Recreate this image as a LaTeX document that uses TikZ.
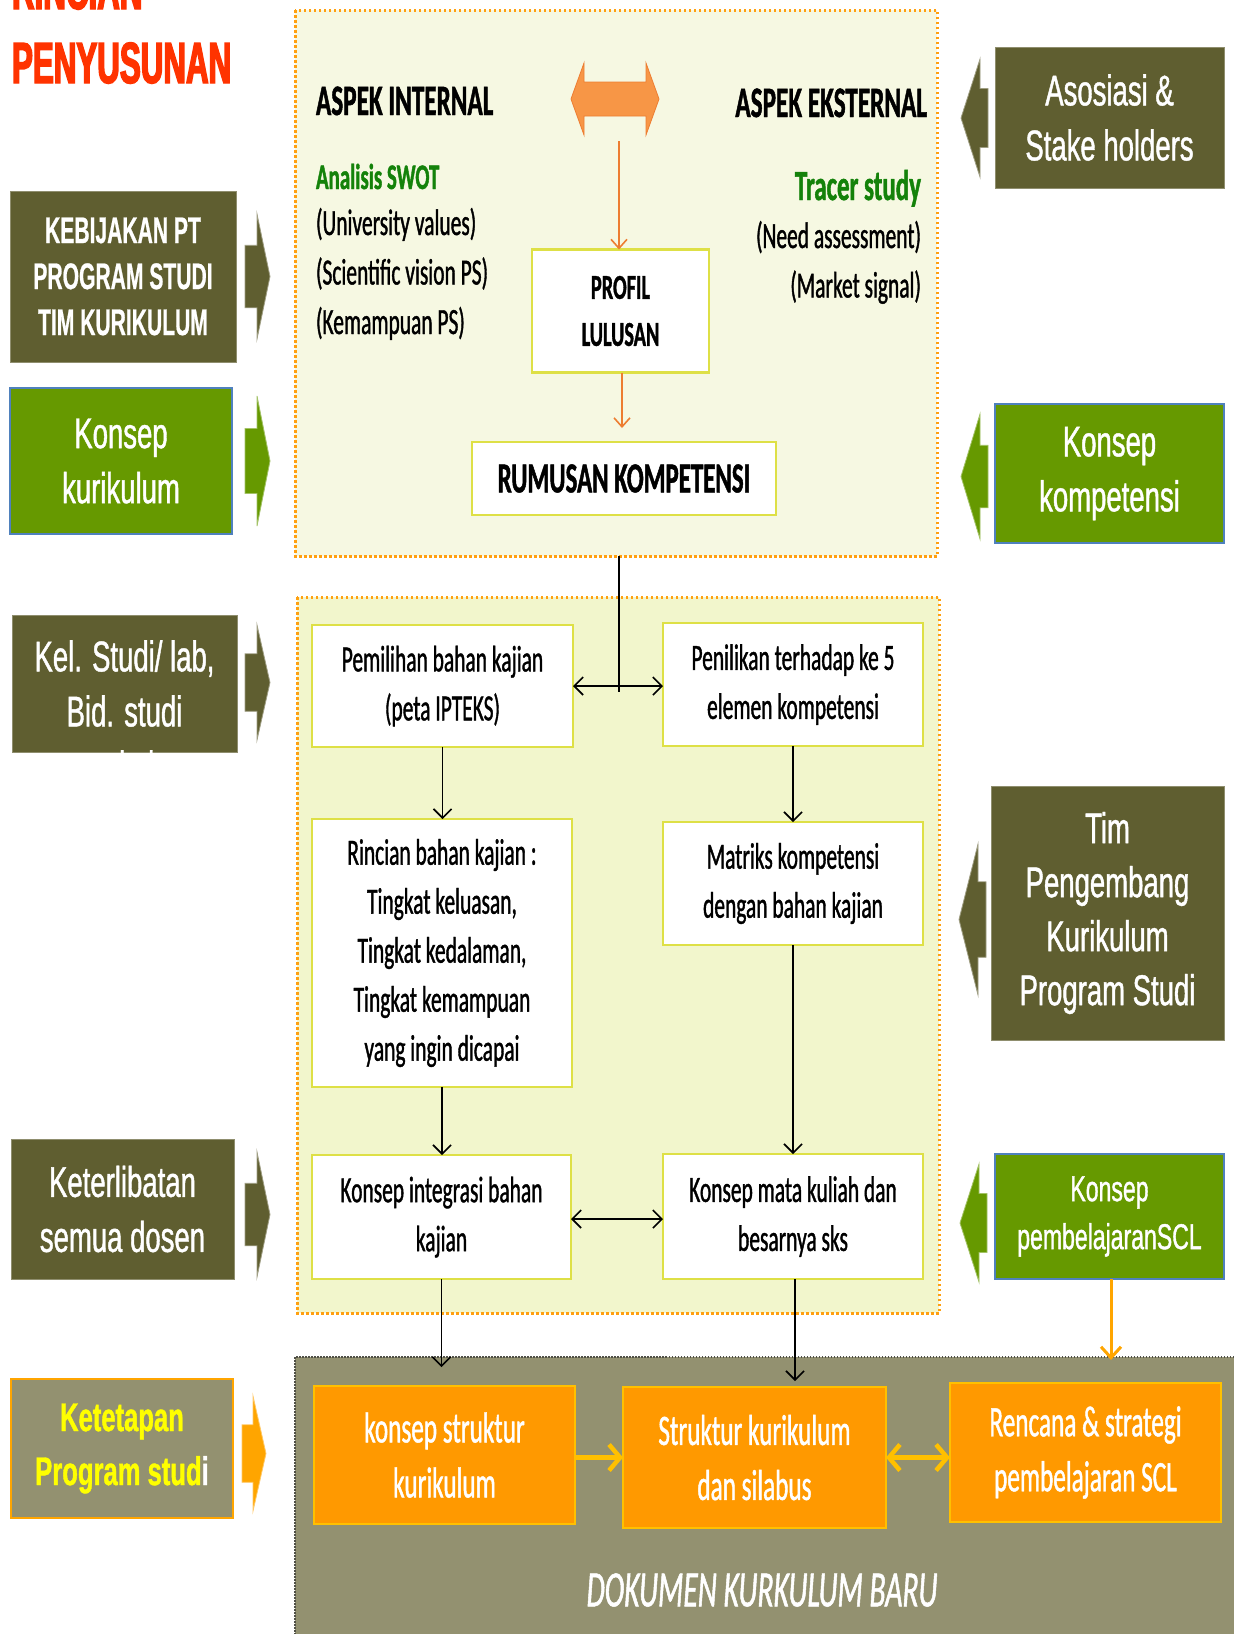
\documentclass[tikz,border=0pt]{standalone}
\usepackage{fontspec}
\setmainfont{Carlito}
\newfontfamily\cf[FakeStretch=0.58,FakeBold=1]{Carlito}
\newfontfamily\af[FakeStretch=0.64,FakeBold=1]{Liberation Sans}
\newfontfamily\afn[FakeStretch=0.57,FakeBold=0.6]{Liberation Sans}
\newfontfamily\tf[FakeStretch=0.54,FakeBold=2.5]{Liberation Sans}
\usetikzlibrary{arrows.meta}
\definecolor{darkol}{RGB}{95,94,48}
\definecolor{kgreen}{RGB}{102,153,0}
\definecolor{blueb}{RGB}{79,129,189}
\definecolor{grayol}{RGB}{147,145,112}
\definecolor{boxyel}{RGB}{222,224,70}
\definecolor{dotor}{RGB}{255,160,16}
\definecolor{lightA}{RGB}{246,248,226}
\definecolor{lightB}{RGB}{242,246,204}
\definecolor{boxor}{RGB}{255,153,0}
\definecolor{boxorb}{RGB}{255,192,0}
\definecolor{yarr}{RGB}{255,192,0}
\definecolor{bigor}{RGB}{247,150,70}
\definecolor{thinor}{RGB}{237,125,49}
\definecolor{arror}{RGB}{255,165,0}
\definecolor{ttlred}{RGB}{255,51,0}
\definecolor{txgreen}{RGB}{20,130,10}
\definecolor{bordk}{RGB}{80,80,70}
\definecolor{ketyel}{RGB}{255,255,0}
% block arrow: tail x, head-base x, tip x, top y, bottom y, colour
\newcommand\blockarr[6]{%
  \path[fill=#6,draw=#6!60!white,line width=0.8pt]
  (#1,{0.5*(#4+#5)-0.25*(#5-#4)}) -- (#2,{0.5*(#4+#5)-0.25*(#5-#4)}) -- (#2,#4)
  -- (#3,{0.5*(#4+#5)}) -- (#2,#5) -- (#2,{0.5*(#4+#5)+0.25*(#5-#4)})
  -- (#1,{0.5*(#4+#5)+0.25*(#5-#4)}) -- cycle;}
\begin{document}
\begin{tikzpicture}[x=1pt,y=-1pt,
  every node/.style={inner sep=0pt,outer sep=0pt},
  wbox/.style={draw=boxyel,line width=2.5pt,fill=white,align=center,text=black,
    font=\cf\fontsize{37}{49}\selectfont},
  sidebox/.style={align=center,text=white,font=\af\fontsize{43}{55}\selectfont},
  olbox/.style={sidebox,fill=darkol,draw=darkol!70!white,line width=1pt},
  grbox/.style={sidebox,fill=kgreen,draw=blueb,line width=1.5pt},
  obox/.style={fill=boxor,draw=boxorb,line width=2.5pt,text=white,align=center,
    font=\cf\fontsize{43.5}{55}\selectfont},
  lightbox/.style={draw=dotor,line width=3pt,dash pattern=on 2.5pt off 2.5pt},
  blk/.style={draw=black,line width=1.6pt},
  blkarr/.style={blk,-{Straight Barb[length=9pt,width=18pt]}},
  blkdbl/.style={blk,{Straight Barb[length=9pt,width=18pt]}-{Straight Barb[length=9pt,width=18pt]}},
  orarr/.style={draw=thinor,line width=1.6pt,-{Straight Barb[length=9pt,width=16pt]}},
  yarrow/.style={draw=yarr,line width=4.5pt,-{Straight Barb[length=11pt,width=26pt]}},
  ydbl/.style={draw=yarr,line width=4.5pt,{Straight Barb[length=11pt,width=26pt]}-{Straight Barb[length=11pt,width=26pt]}},
  hdr/.style={font=\cf\bfseries\fontsize{43.5}{43.5}\selectfont,text=black},
  sub/.style={font=\cf\fontsize{37}{37}\selectfont,text=black},
  gsub/.style={font=\cf\bfseries\fontsize{37}{37}\selectfont,text=txgreen}]
\useasboundingbox (0,0) rectangle (1234,1634);
\fill[white] (0,0) rectangle (1234,1634);

% title
\node[anchor=base west,text=ttlred,font=\tf\bfseries\fontsize{58}{58}\selectfont] (t1) at (12,9) {RINCIAN};
\node[anchor=base west,text=ttlred,font=\tf\bfseries\fontsize{58}{58}\selectfont] (t2) at (12,83) {PENYUSUNAN};

% light regions
\path[lightbox,fill=lightA] (295,10) rectangle (937,556);
\path[lightbox,fill=lightB] (297,597) rectangle (939,1313);
\path[fill=grayol,draw=bordk,line width=2.5pt,dash pattern=on 1.5pt off 1.5pt] (295,1357) rectangle (1250,1650);

% top region
\node[hdr,anchor=base west] (ai) at (316,115) {ASPEK INTERNAL};
\node[hdr,anchor=base east] (ae) at (927,117) {ASPEK EKSTERNAL};
\path[fill=bigor,draw=thinor,line width=0.8pt] (571,99) -- (584,63) -- (584,82) -- (646,82)
  -- (646,63) -- (659,99) -- (646,135) -- (646,116) -- (584,116) -- (584,135) -- cycle;
\coordinate (dab) at (619,141);
\node[gsub,anchor=base west,font=\cf\bfseries\fontsize{36}{36}\selectfont] (swot) at (316,189) {Analisis SWOT};
\node[sub,anchor=base west] (uv) at (316,235) {(University values)};
\node[sub,anchor=base west] (sv) at (316,284.5) {(Scientific vision PS)};
\node[sub,anchor=base west] (kp) at (316,334) {(Kemampuan PS)};
\node[gsub,anchor=base east,font=\cf\bfseries\fontsize{43}{43}\selectfont] (tr) at (921,200) {Tracer study};
\node[sub,anchor=base east] (na) at (921,248) {(Need assessment)};
\node[sub,anchor=base east] (ms) at (921,297.5) {(Market signal)};

\node[wbox,minimum width=177pt,minimum height=123pt,font=\cf\bfseries\fontsize{35}{47}\selectfont] (prof) at (620.5,311) {PROFIL\\LULUSAN};
\node[wbox,minimum width=304pt,minimum height=73pt,font=\cf\bfseries\fontsize{43}{43}\selectfont] (rum) at (624,478.5) {RUMUSAN KOMPETENSI};
\draw[orarr] (dab) -- (dab |- prof.north);
\draw[orarr,shorten >=14pt] (prof.south -| 622,0) -- (622,442);

% middle region
\node[wbox,minimum width=261pt,minimum height=122pt] (pem) at (442.5,686) {Pemilihan bahan kajian\\(peta IPTEKS)};
\node[wbox,minimum width=260pt,minimum height=123pt] (pen) at (793,684.5) {Penilikan terhadap ke 5\\elemen kompetensi};
\node[wbox,minimum width=260pt,minimum height=268pt] (rin) at (442,953) {Rincian bahan kajian :\\Tingkat keluasan,\\Tingkat kedalaman,\\Tingkat kemampuan\\yang ingin dicapai};
\node[wbox,minimum width=260pt,minimum height=123pt] (mat) at (793,883.5) {Matriks kompetensi\\dengan bahan kajian};
\node[wbox,minimum width=259pt,minimum height=124pt] (kin) at (441.5,1217) {Konsep integrasi bahan\\kajian};
\node[wbox,minimum width=260pt,minimum height=125pt] (kmk) at (793,1216.5) {Konsep mata kuliah dan\\besarnya sks};

\coordinate (tb) at (619,556);
\coordinate (tbe) at (619,692);
\draw[blk] (tb) -- (tbe);
\draw[blkdbl] (pem.east |- 0,686) -- (pen.west |- 0,686);
\draw[blkarr] (pem.south) -- (pem.south |- rin.north);
\draw[blkarr] (pen.south) -- (pen.south |- mat.north);
\draw[blkarr] (rin.south) -- (rin.south |- kin.north);
\draw[blkarr] (mat.south) -- (mat.south |- kmk.north);
\draw[blkdbl] (kin.east |- 0,1219) -- (kmk.west |- 0,1219);

% bottom region
\node[obox,minimum width=261pt,minimum height=138pt] (ks) at (444.5,1455) {konsep struktur\\kurikulum};
\node[obox,minimum width=263pt,minimum height=141pt] (sk) at (754.5,1457.5) {Struktur kurikulum\\dan silabus};
\node[obox,minimum width=271pt,minimum height=139pt] (rs) at (1085.5,1452.5) {Rencana \& strategi\\pembelajaran SCL};
\node[text=white,font=\cf\itshape\fontsize{51}{51}\selectfont] (dok) at (762,1590) {DOKUMEN KURKULUM BARU};
\draw[blkarr,shorten >=19pt] (kin.south) -- (kin.south |- ks.north);
\draw[blkarr,shorten >=6pt] (kmk.south -| 795,0) -- (795,1387);
\draw[yarrow] (ks.east |- sk.west) -- (sk.west);
\draw[ydbl] (sk.east) -- (sk.east -| rs.west);

% left side boxes
\node[olbox,minimum width=226pt,minimum height=171pt,font=\afn\bfseries\fontsize{37}{46}\selectfont] (keb) at (123,276.5) {KEBIJAKAN PT\\PROGRAM STUDI\\TIM KURIKULUM};
\node[grbox,minimum width=222pt,minimum height=146pt] (kkur) at (121,461) {Konsep\\kurikulum};
\node[olbox,minimum width=225pt,minimum height=137pt] (kel) at (124.5,683.5) {};
\node[sidebox] (kelt) at (124.5,711) {Kel. Studi/ lab,\\Bid. studi\\terkait};
\node[olbox,minimum width=223pt,minimum height=140pt] (ket) at (122.5,1209) {Keterlibatan\\semua dosen};
\node[sidebox,fill=grayol,draw=arror,line width=2pt,minimum width=222pt,minimum height=139pt,text=ketyel,font=\af\bfseries\fontsize{40}{54}\selectfont] (kpr) at (122,1448.5) {Ketetapan\\Program stud\textcolor{white}{i}};
\blockarr{245}{257}{270}{214}{339}{darkol}
\blockarr{245}{257}{270}{396}{526}{kgreen}
\blockarr{245}{257}{270}{625}{740}{darkol}
\blockarr{245}{257}{270}{1152}{1277}{darkol}
\blockarr{242}{253}{266}{1396}{1511}{arror}

% right side boxes
\node[olbox,minimum width=229pt,minimum height=141pt] (aso) at (1109.5,117.5) {Asosiasi \&\\Stake holders};
\node[grbox,minimum width=229pt,minimum height=139pt] (kkom) at (1109.5,473.5) {Konsep\\kompetensi};
\node[olbox,minimum width=233pt,minimum height=254pt,font=\af\fontsize{43}{54}\selectfont] (tim) at (1107.5,913) {Tim\\Pengembang\\Kurikulum\\Program Studi};
\node[grbox,minimum width=229pt,minimum height=125pt,font=\af\fontsize{36}{48}\selectfont] (kpem) at (1109.5,1216.5) {Konsep\\pembelajaranSCL};
\blockarr{988}{980}{961}{59}{177}{darkol}
\blockarr{988}{980}{961}{414}{539}{kgreen}
\blockarr{986}{978}{959}{844}{995}{darkol}
\blockarr{987}{979}{960}{1164}{1282}{kgreen}
\draw[draw=arror,line width=3pt,-{Straight Barb[length=11pt,width=20pt]},shorten >=23pt] (kpem.south -| 1111,0) -- (1111,1383);
\end{tikzpicture}
\end{document}
